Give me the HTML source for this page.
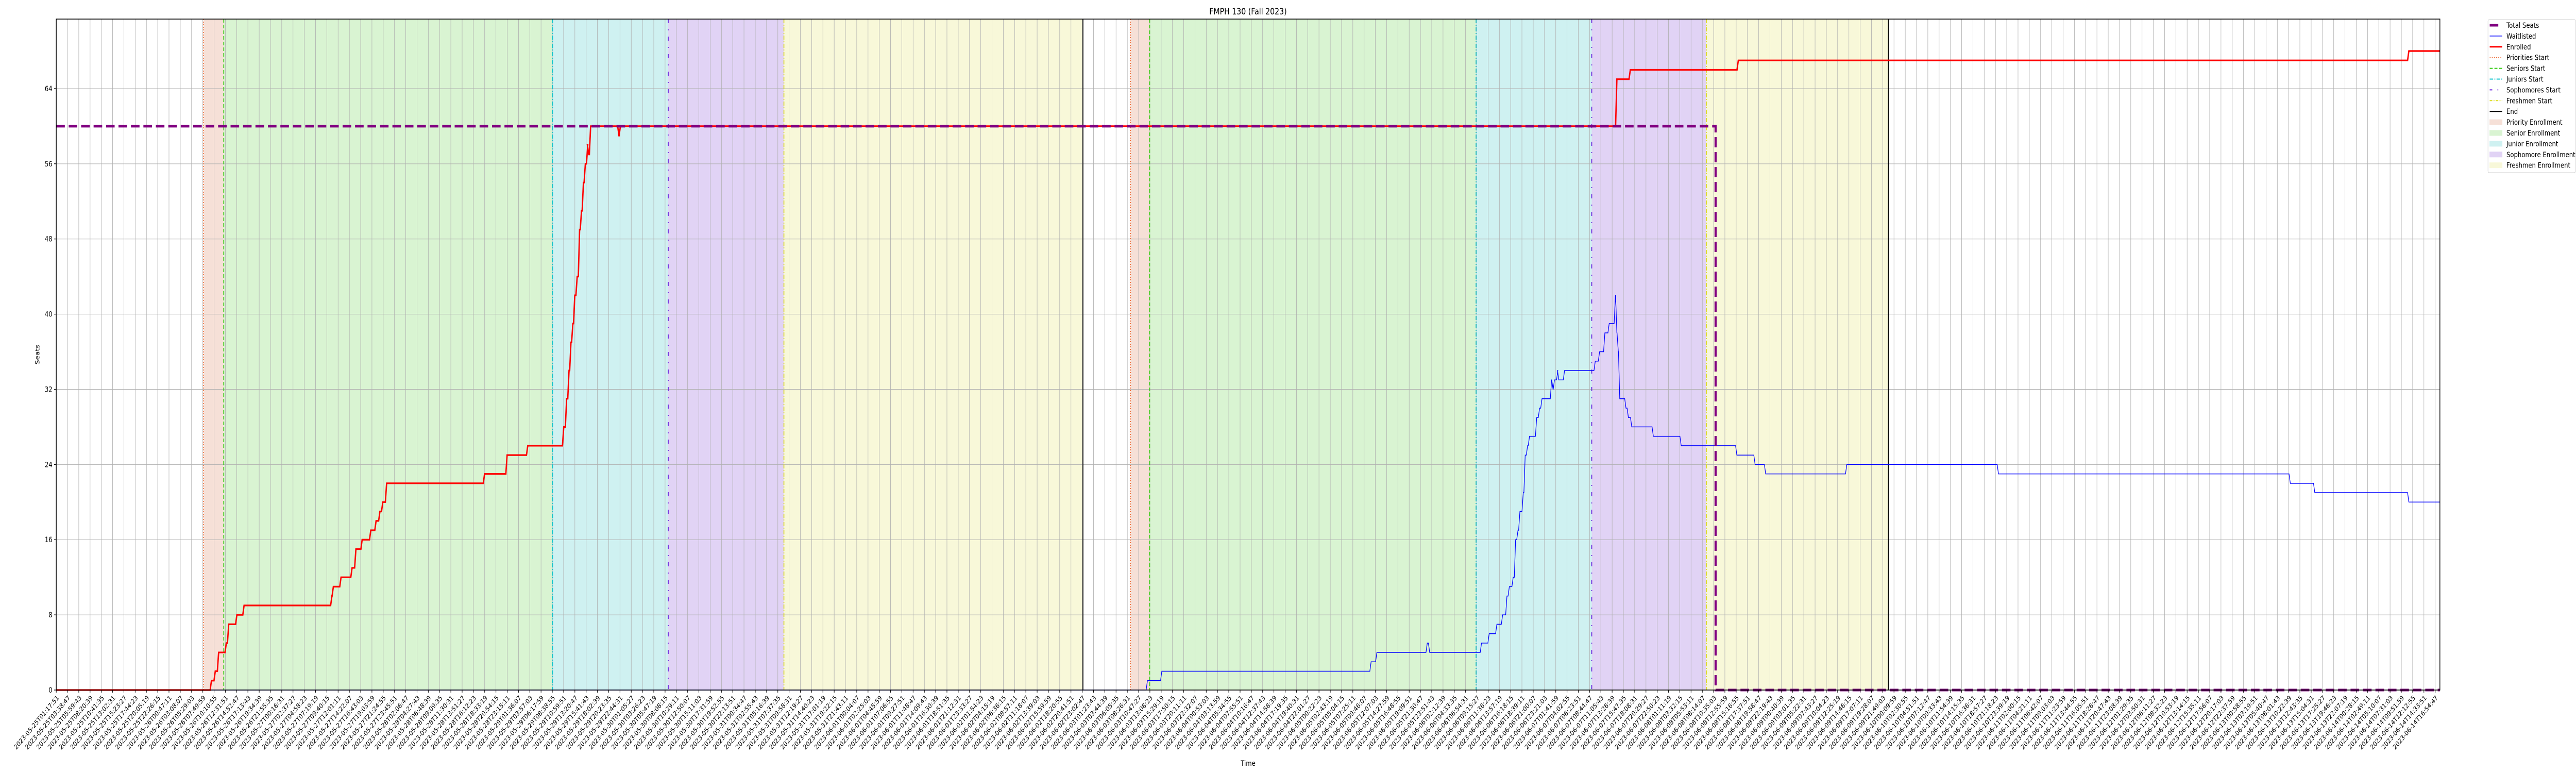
<!DOCTYPE html>
<html><head><meta charset="utf-8">
<style>
html,body{margin:0;padding:0;background:#fff;width:100%;height:100%;overflow:hidden;}
svg{display:block;font-family:"DejaVu Sans","Liberation Sans",sans-serif;overflow:hidden;width:100vw;height:100vh;}
</style></head>
<body>
<svg id="chart" viewBox="0 0 6000 1500" preserveAspectRatio="none" xmlns="http://www.w3.org/2000/svg">
<text x="2907" y="28" text-anchor="middle" font-size="17">FMPH 130 (Fall 2023)</text>
<text x="2907" y="1486" text-anchor="middle" font-size="14">Time</text>
<text x="92" y="688" text-anchor="middle" font-size="14" transform="rotate(-90 92 688)">Seats</text>
<g id="bands"></g>
<g id="grid"></g>
<g id="vlines"></g>
<g id="series"></g>
<g id="axes"></g>
<g id="legend"></g>
</svg>
<script>
// ---- data (hours since 2023-05-25T01:17:51) ----
const yTicks = [0, 8, 16, 24, 32, 40, 48, 56, 64];
const phaseNames = ["priority", "senior", "junior", "sophomore", "freshmen"];
const term1Starts = [30.7, 34.9, 103.4, 127.5, 151.6];
const term1End = 213.9;
const term2Starts = [223.8, 227.8, 295.8, 319.9, 343.8];
const term2End = 381.7;
const totalSeatsTimes = [0, 345.7, 496.6];
const totalSeatsValues = [60, 0, 0];
const enrolledTimes = [0, 32.2, 33.0, 33.7, 35.3, 35.8, 37.5, 39.0, 57.3, 57.6, 59.2, 61.5, 62.3, 63.6, 65.4, 66.5, 67.3, 67.9, 68.7, 89.1, 93.8, 98.1, 105.6, 106.2, 106.7, 107.1, 107.5, 107.9, 108.4, 108.9, 109.3, 109.7, 110.1, 110.6, 110.8, 111.2, 117.1, 117.4, 325.0, 327.8, 350.3, 490.0];
const enrolledValues = [0, 1, 2, 4, 5, 7, 8, 9, 10, 11, 12, 13, 15, 16, 17, 18, 19, 20, 22, 23, 25, 26, 28, 31, 34, 37, 39, 42, 44, 49, 51, 54, 56, 58, 57, 60, 59, 60, 65, 66, 67, 68];
const waitTimes = [0, 227.2, 230.2, 273.8, 275.0, 285.5, 286.0, 296.8, 298.4, 300.0, 301.2, 302.1, 302.6, 303.4, 303.9, 304.4, 304.8, 305.5, 305.9, 306.4, 306.8, 308.3, 308.9, 309.4, 311.4, 311.7, 312.0, 312.7, 312.9, 314.1, 320.5, 321.4, 322.5, 323.4, 324.7, 325.0, 325.3, 325.6, 326.9, 327.4, 328.1, 332.6, 338.4, 350.0, 353.8, 356.0, 372.9, 404.5, 465.3, 470.4, 490.0];
const waitValues = [0, 1, 2, 3, 4, 5, 4, 5, 6, 7, 8, 10, 11, 12, 16, 17, 19, 21, 25, 26, 27, 29, 30, 31, 33, 32, 33, 34, 33, 34, 35, 36, 38, 39, 42, 38, 36, 31, 30, 29, 28, 27, 26, 25, 24, 23, 24, 23, 22, 21, 20];
const tickCount = 212;
const tickStepSeconds = 8456;
const tickLabels = [];
{
  const t0 = Date.UTC(2023, 4, 25, 1, 17, 51);
  for (let i = 0; i < tickCount; i++) {
    const d = new Date(t0 + i * tickStepSeconds * 1000);
    tickLabels.push(d.toISOString().slice(0, 19));
  }
}
const tickHours = tickLabels.map((s, i) => i * tickStepSeconds / 3600);

// ---- layout ----
const L = 131, R = 5683, T = 37, B = 1339;
const xMax = 496.6, yMax = 71.4;
const xS = h => L + h / xMax * (R - L);
const yS = v => B - v / yMax * (B - T);
const NS = "http://www.w3.org/2000/svg";
function mk(tag, attrs, parent) {
  const e = document.createElementNS(NS, tag);
  for (const k in attrs) e.setAttribute(k, attrs[k]);
  parent.appendChild(e);
  return e;
}
const bandColors = { priority: "#f6e0d7", senior: "#d9f4d2", junior: "#cff1f1", sophomore: "#e1d3f5", freshmen: "#f8f8d9" };
const lineStyles = {
  priority: { stroke: "#ee6a35", dash: "2,3", w: 2 },
  senior: { stroke: "#33cc11", dash: "7,4", w: 2 },
  junior: { stroke: "#11c4cc", dash: "8,3,2,3", w: 2 },
  sophomore: { stroke: "#6a22dd", dash: "8,12,2,12", w: 2 },
  freshmen: { stroke: "#dddd22", dash: "8,3,2,3", w: 2 }
};

const bands = document.getElementById('bands');
const vlines = document.getElementById('vlines');
[[term1Starts, term1End], [term2Starts, term2End]].forEach(([starts, end], ti) => {
  starts.forEach((s, i) => {
    const e = i < starts.length - 1 ? starts[i + 1] : end;
    const r = mk('rect', { x: xS(s), y: T, width: xS(e) - xS(s), height: B - T, fill: bandColors[phaseNames[i]] }, bands);
    
    
  });
});
const grid = document.getElementById('grid');
tickHours.forEach((h, i) => {
  const g = mk('line', { x1: xS(h), x2: xS(h), y1: T, y2: B, stroke: "#b0b0b0", "stroke-width": 1 }, grid);
  
  
});
yTicks.forEach(v => {
  const g = mk('line', { x1: L, x2: R, y1: yS(v), y2: yS(v), stroke: "#b0b0b0", "stroke-width": 1 }, grid);
  
  
});
[[term1Starts, term1End], [term2Starts, term2End]].forEach(([starts, end], ti) => {
  starts.forEach((s, i) => {
    const st = lineStyles[phaseNames[i]];
    const l = mk('line', { x1: xS(s), x2: xS(s), y1: T, y2: B, stroke: st.stroke, "stroke-width": st.w, "stroke-dasharray": st.dash }, vlines);
    
    
  });
  const l = mk('line', { x1: xS(end), x2: xS(end), y1: T, y2: B, stroke: "#000", "stroke-width": 2 }, vlines);
  
  
});

function stepPath(ts, vs, endH) {
  let d = "M" + xS(ts[0]) + "," + yS(vs[0]);
  for (let i = 1; i < ts.length; i++) {
    d += " L" + (xS(ts[i]) - 1.5) + "," + yS(vs[i - 1]) + " L" + (xS(ts[i]) + 1.5) + "," + yS(vs[i]);
  }
  d += " L" + xS(endH) + "," + yS(vs[vs.length - 1]);
  return d;
}
const series = document.getElementById('series');
const wl = mk('path', { d: stepPath(waitTimes, waitValues, xMax), fill: "none", stroke: "#0000ff", "stroke-width": 1.5 }, series);


const en = mk('path', { d: stepPath(enrolledTimes, enrolledValues, xMax), fill: "none", stroke: "#ff0000", "stroke-width": 3.2 }, series);


let td = "M" + xS(totalSeatsTimes[0]) + "," + yS(totalSeatsValues[0]);
for (let i = 1; i < totalSeatsTimes.length; i++) {
  td += " L" + xS(totalSeatsTimes[i]) + "," + yS(totalSeatsValues[i - 1]) + " L" + xS(totalSeatsTimes[i]) + "," + yS(totalSeatsValues[i]);
}
const ts = mk('path', { d: td, fill: "none", stroke: "#800080", "stroke-width": 5, "stroke-dasharray": "20,9" }, series);



const axes = document.getElementById('axes');
mk('rect', { x: L, y: T, width: R - L, height: B - T, fill: "none", stroke: "#000", "stroke-width": 1.6 }, axes);
yTicks.forEach(v => {
  mk('line', { x1: L - 5, x2: L, y1: yS(v), y2: yS(v), stroke: "#000", "stroke-width": 1.2 }, axes);
  const t = mk('text', { x: L - 9, y: yS(v) + 5, "text-anchor": "end", "font-size": 14 }, axes);
  t.textContent = v;
  
  
});
tickHours.forEach((h, i) => {
  const x = xS(h);
  mk('line', { x1: x, x2: x, y1: B, y2: B + 5, stroke: "#000", "stroke-width": 1.2 }, axes);
  const t = mk('text', { x: x, y: B + 19, "text-anchor": "end", "font-size": 13, transform: "rotate(-45 " + x + " " + (B + 9) + ")" }, axes);
  t.textContent = tickLabels[i];
  
  
});

const lg = document.getElementById('legend');
const lgBox = mk('rect', { x: 5795, y: 38, width: 204, height: 297, rx: 3, fill: "#fff", stroke: "#d0d0d0", "stroke-width": 1 }, lg);


const legendItems = [
  ["Total Seats", "line", "#800080", 5, ""],
  ["Waitlisted", "line", "#0000ff", 1.5, ""],
  ["Enrolled", "line", "#ff0000", 3, ""],
  ["Priorities Start", "line", "#ee6a35", 2, "2,3"],
  ["Seniors Start", "line", "#33cc11", 2, "7,4"],
  ["Juniors Start", "line", "#11c4cc", 2, "8,3,2,3"],
  ["Sophomores Start", "line", "#6a22dd", 2, "6,12,2,12"],
  ["Freshmen Start", "line", "#dddd22", 2, "6,3,2,3"],
  ["End", "line", "#000", 2, ""],
  ["Priority Enrollment", "patch", bandColors.priority],
  ["Senior Enrollment", "patch", bandColors.senior],
  ["Junior Enrollment", "patch", bandColors.junior],
  ["Sophomore Enrollment", "patch", bandColors.sophomore],
  ["Freshmen Enrollment", "patch", bandColors.freshmen]
];
legendItems.forEach((it, i) => {
  const cy = 49 + i * 20.9;
  const g = mk('g', {}, lg);
  
  
  if (it[1] === "line") {
    const a = { x1: 5799, x2: 5828, y1: cy, y2: cy, stroke: it[2], "stroke-width": it[3] };
    if (it[4]) a["stroke-dasharray"] = it[4];
    if (i === 0) { a.x2 = 5819; }
    mk('line', a, g);
  } else {
    mk('rect', { x: 5799, y: cy - 5, width: 29, height: 10, fill: it[2], stroke: it[2] }, g);
  }
  const t = mk('text', { x: 5838, y: cy + 5, "font-size": 14 }, g);
  t.textContent = it[0];
});
</script>
</body></html>
